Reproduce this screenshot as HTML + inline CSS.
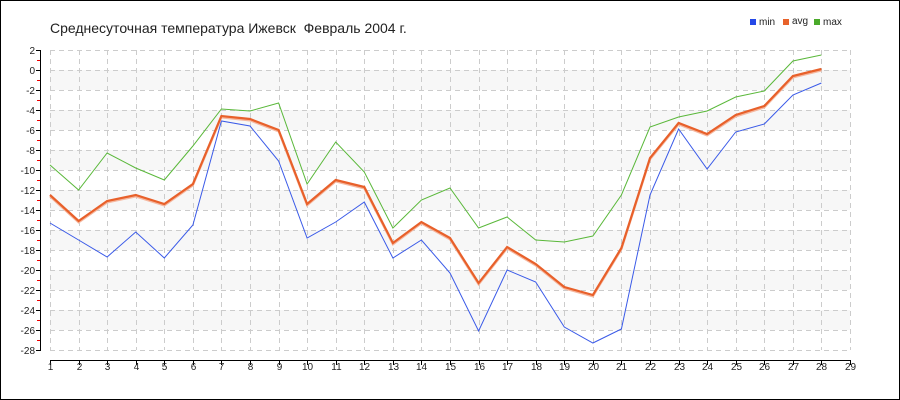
<!DOCTYPE html>
<html><head><meta charset="utf-8"><style>
html,body{margin:0;padding:0;background:#fff}
svg{display:block;font-family:"Liberation Sans",sans-serif}
</style></head><body>
<svg id="c" width="900" height="400" xmlns="http://www.w3.org/2000/svg">
<rect x="0.5" y="0.5" width="899" height="399" fill="#fff" stroke="#000" stroke-width="1"/>
<text x="50" y="33" font-size="14" fill="#222">Среднесуточная температура Ижевск&#160; Февраль 2004 г.</text>
<rect x="750" y="19" width="6" height="6" fill="#2448e8"/><text x="759" y="25" font-size="10" fill="#222">min</text>
<rect x="783" y="19" width="6" height="6" fill="#e8622a"/><text x="792" y="24" font-size="10" fill="#222">avg</text>
<rect x="814" y="19" width="6" height="6" fill="#4aaa2a"/><text x="823" y="25" font-size="10" fill="#222">max</text>
<g id="g"></g>
</svg>
<script>
var g=document.getElementById('g'),s='';
function X(d){return 50+(d-1)*800/28}
function Y(v){return 70-v*10}
for(var v=0;v>-28;v-=4){s+='<rect x="50" y="'+Y(v)+'" width="800" height="20" fill="#f7f7f7"/>';}
for(var v=2;v>=-28;v-=2){s+='<line x1="50" x2="850" y1="'+(Y(v)+.5)+'" y2="'+(Y(v)+.5)+'" stroke="#ccc" stroke-dasharray="5,4"/>';
s+='<line x1="36" x2="41" y1="'+(Y(v)+.5)+'" y2="'+(Y(v)+.5)+'" stroke="#000"/>';
if(v>-28)s+='<line x1="37" x2="40" y1="'+(Y(v-1)+.5)+'" y2="'+(Y(v-1)+.5)+'" stroke="#e00"/>';
s+='<text x="35" y="'+(Y(v)+4)+'" font-size="10" text-anchor="end" fill="#222">'+v+'</text>';}
for(var d=1;d<=29;d++){var x=Math.round(X(d))+.5;s+='<line x1="'+x+'" x2="'+x+'" y1="50" y2="350" stroke="#ccc" stroke-dasharray="5,4"/>';
s+='<line x1="'+x+'" x2="'+x+'" y1="360" y2="365" stroke="#000"/>';
s+='<text x="'+x+'" y="370" font-size="10" text-anchor="middle" fill="#222">'+d+'</text>';}
s+='<line x1="40.5" x2="40.5" y1="50" y2="351" stroke="#000"/>';
s+='<line x1="50" x2="851" y1="360.5" y2="360.5" stroke="#000"/>';
var mn=[-15.3,-17,-18.7,-16.2,-18.8,-15.5,-5.1,-5.6,-9.1,-16.8,-15.2,-13.2,-18.8,-17,-20.3,-26.1,-20,-21.2,-25.7,-27.3,-25.9,-12.5,-5.9,-9.9,-6.2,-5.4,-2.5,-1.3];
var av=[-12.5,-15.1,-13.1,-12.5,-13.4,-11.4,-4.6,-4.9,-6,-13.4,-11,-11.7,-17.3,-15.2,-16.8,-21.3,-17.7,-19.4,-21.7,-22.5,-17.8,-8.8,-5.3,-6.4,-4.5,-3.6,-0.6,0.1];
var mx=[-9.5,-12,-8.3,-9.8,-11,-7.6,-3.9,-4.1,-3.3,-11.4,-7.2,-10.2,-15.8,-13,-11.8,-15.8,-14.7,-17,-17.2,-16.6,-12.5,-5.7,-4.7,-4.1,-2.7,-2.1,0.9,1.5];
function P(a,dy){return a.map(function(v,i){return X(i+1).toFixed(1)+','+(Y(v)+dy).toFixed(1)}).join(' ')}
s+='<polyline points="'+P(mx,0)+'" fill="none" stroke="#5ab83a" stroke-width="1"/>';
s+='<polyline points="'+P(mn,0)+'" fill="none" stroke="#3a5ae8" stroke-width="1"/>';
s+='<polyline points="'+P(av,1.5)+'" fill="none" stroke="#f5b8a0" stroke-width="2"/>';
s+='<polyline points="'+P(av,0)+'" fill="none" stroke="#e8602a" stroke-width="2.2"/>';
g.innerHTML=s;
</script>
</body></html>
